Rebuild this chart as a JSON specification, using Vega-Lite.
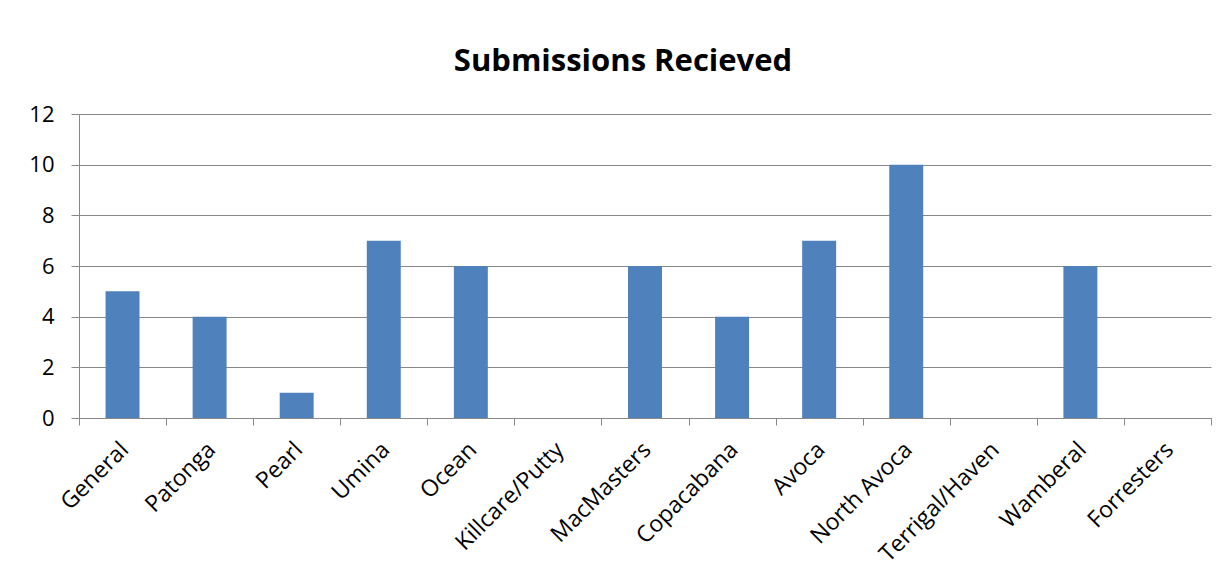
{
  "$schema": "https://vega.github.io/schema/vega-lite/v6.json",
  "autosize": {"type": "none"},
  "padding": {"left": 79, "top": 114, "right": 15, "bottom": 161},
  "width": 1132,
  "height": 304,
  "background": "white",
  "title": {
    "text": "Submissions Recieved",
    "font": "Open Sans",
    "fontSize": 31,
    "fontWeight": "bold",
    "color": "#000000",
    "anchor": "middle",
    "dx": -22,
    "offset": 25
  },
  "data": {
    "values": [
      {"area": "General", "count": 5},
      {"area": "Patonga", "count": 4},
      {"area": "Pearl", "count": 1},
      {"area": "Umina", "count": 7},
      {"area": "Ocean", "count": 6},
      {"area": "Killcare/Putty", "count": 0},
      {"area": "MacMasters", "count": 6},
      {"area": "Copacabana", "count": 4},
      {"area": "Avoca", "count": 7},
      {"area": "North Avoca", "count": 10},
      {"area": "Terrigal/Haven", "count": 0},
      {"area": "Wamberal", "count": 6},
      {"area": "Forresters", "count": 0}
    ]
  },
  "mark": {"type": "bar", "color": "#4F81BD", "width": {"band": 0.39}},
  "encoding": {
    "x": {
      "field": "area",
      "type": "nominal",
      "sort": null,
      "title": null,
      "scale": {"paddingInner": 0, "paddingOuter": 0},
      "axis": {
        "labelAngle": -45,
        "labelFont": "Open Sans",
        "labelFontSize": 23,
        "labelColor": "#000000",
        "labelPadding": 13,
        "labelOffset": -6,
        "tickBand": "extent",
        "tickSize": 7,
        "tickColor": "#888888",
        "domainColor": "#888888",
        "grid": false
      }
    },
    "y": {
      "field": "count",
      "type": "quantitative",
      "title": null,
      "scale": {"domain": [0, 12]},
      "axis": {
        "values": [0, 2, 4, 6, 8, 10, 12],
        "labelFont": "Open Sans",
        "labelFontSize": 22,
        "labelColor": "#000000",
        "labelPadding": 17,
        "tickSize": 8,
        "tickColor": "#888888",
        "domainColor": "#888888",
        "gridColor": "#888888",
        "gridOpacity": 1
      }
    }
  },
  "config": {"view": {"stroke": null}}
}
